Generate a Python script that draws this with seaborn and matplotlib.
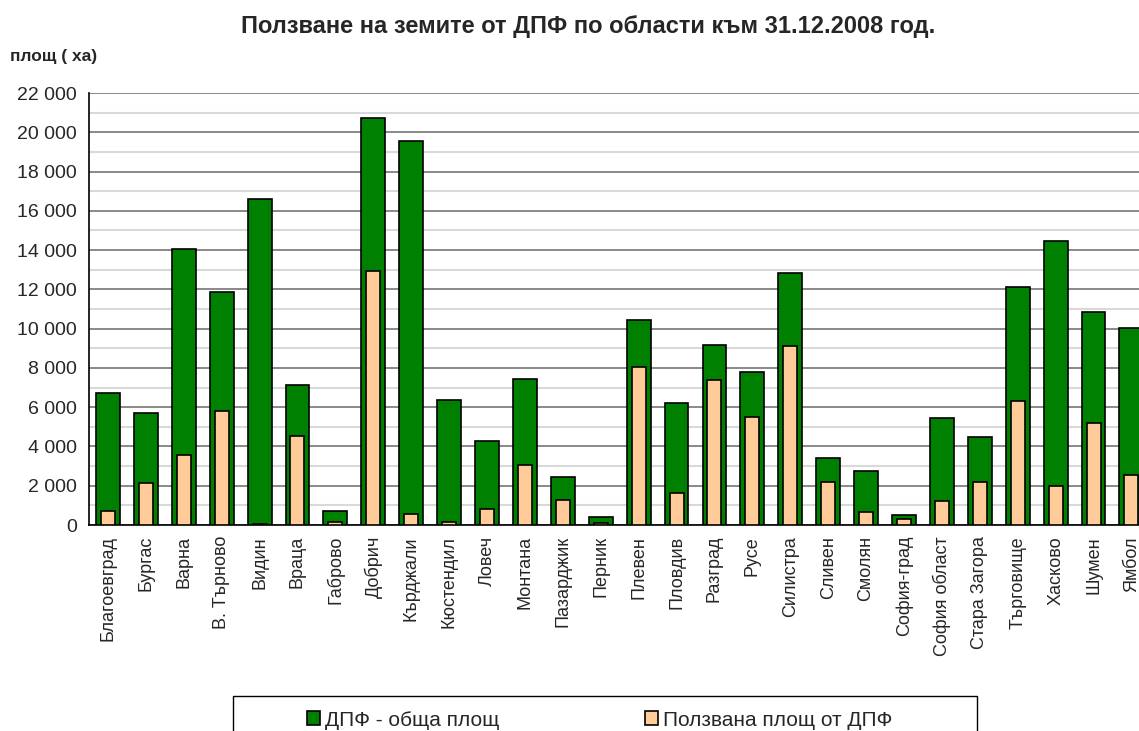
import matplotlib
matplotlib.use("Agg")
import matplotlib.pyplot as plt
import seaborn as sns
from matplotlib.patches import Rectangle
from matplotlib.ticker import MultipleLocator, FuncFormatter

##### Data

regions = ["Благоевград", "Бургас", "Варна", "В. Търново", "Видин", "Враца", "Габрово",
           "Добрич", "Кърджали", "Кюстендил", "Ловеч", "Монтана", "Пазарджик", "Перник",
           "Плевен", "Пловдив", "Разград", "Русе", "Силистра", "Сливен", "Смолян",
           "София-град", "София област", "Стара Загора", "Търговище", "Хасково", "Шумен", "Ямбол"]

total_area = [6700, 5700, 14080, 11860, 16600, 7140, 710,
              20740, 19570, 6390, 4300, 7460, 2460, 390,
              10450, 6220, 9190, 7780, 12840, 3400, 2740,
              490, 5470, 4470, 12100, 14440, 10840, 10040]

used_area = [700, 2150, 3550, 5810, 60, 4550, 170,
             12960, 560, 150, 800, 3060, 1290, 80,
             8050, 1610, 7360, 5520, 9140, 2190, 650,
             320, 1220, 2190, 6290, 1990, 5210, 2530]

title = "Ползване на земите от ДПФ по области към 31.12.2008 год."
y_label = "площ ( ха)"
legend_labels = ["ДПФ - обща площ", "Ползвана площ от ДПФ"]

##### Plot

sns.set_style("white")
plt.rcParams["font.family"] = ["Liberation Sans", "DejaVu Sans"]

W, H = 1139, 731
fig = plt.figure(figsize=(W / 100, H / 100), dpi=100)
ax = fig.add_axes([89 / W, 1 - 525 / H, 1 - 89 / W, (525 - 93) / H])

sns.barplot(x=regions, y=total_area, color="#008000", edgecolor="black", linewidth=1.2,
            width=0.63, saturation=1, ax=ax, label=legend_labels[0], zorder=3)
sns.barplot(x=regions, y=used_area, color="#FFCC99", edgecolor="black", linewidth=1.2,
            width=0.37, saturation=1, ax=ax, label=legend_labels[1], zorder=4)

ax.yaxis.set_major_locator(MultipleLocator(2000))
ax.yaxis.set_minor_locator(MultipleLocator(1000))
ax.yaxis.set_major_formatter(FuncFormatter(lambda v, p: f"{int(v):,}".replace(",", " ")))
ax.grid(axis="y", which="major", color="#808080", linewidth=1.3, zorder=0)
ax.grid(axis="y", which="minor", color="#d9d9d9", linewidth=1.5, zorder=0)
ax.set_axisbelow(True)

ax.set_xticks(range(len(regions)))
ax.set_xticklabels(regions, rotation=90, fontsize=13)
ax.tick_params(axis="x", which="major", length=0, pad=8)
ax.set_xticks([i - 0.5 for i in range(len(regions) + 1)], minor=True)
ax.tick_params(axis="x", which="minor", length=7, width=1, color="black", direction="out")
ax.tick_params(axis="y", which="major", length=5, width=1, color="black", direction="out", labelsize=14)
ax.tick_params(axis="y", which="minor", length=0)

# set limits after the ticks (set_xticks widens the view)
ax.set_ylim(0, 22000)
ax.set_xlim(-0.5, 27.2)

for s in ["top", "right"]:
    ax.spines[s].set_visible(False)
for s in ["left", "bottom"]:
    ax.spines[s].set_color("black")
    ax.spines[s].set_linewidth(1.2)

ax.set_xlabel("")
ax.set_ylabel("")
fig.text(588 / W, 1 - 26 / H, title, ha="center", va="center", fontsize=17, fontweight="bold")
fig.text(10 / W, 1 - 57 / H, y_label, ha="left", va="center", fontsize=12.5, fontweight="bold")

leg = ax.legend(loc="center left", bbox_to_anchor=(307 / W, 1 - 720 / H),
                bbox_transform=fig.transFigure, ncol=2, fontsize=15, frameon=False,
                handlelength=0.62, handleheight=0.62, handletextpad=0.25, columnspacing=7.0,
                borderpad=0, borderaxespad=0)
fig.patches.append(Rectangle((233 / W, 1 - 745 / H), (977 - 233) / W, (745 - 696) / H,
                             transform=fig.transFigure, fill=False, edgecolor="black",
                             linewidth=1))

fig.savefig("out.png", dpi=100)
